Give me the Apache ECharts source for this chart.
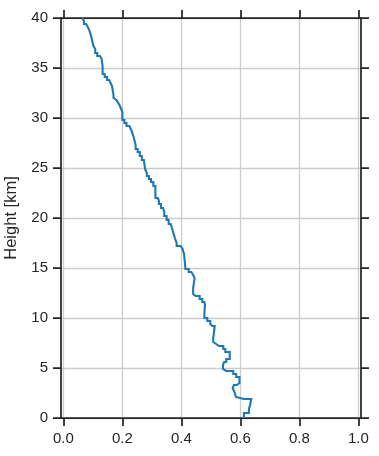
<!DOCTYPE html>
<html><head><meta charset="utf-8">
<script src="https://cdn.jsdelivr.net/npm/echarts@6/dist/echarts.min.js"></script>
<style>html,body{margin:0;padding:0;background:#fff;}#c{width:379px;height:456px;}</style>
</head><body><div id="c"></div>
<script>
// Layer boundaries (km) and profile value per layer
const heightEdges = [0,0.5,0.9,1.3,1.9,2.1,2.3,2.6,3.0,3.3,3.5,4.1,4.4,4.7,4.9,5.3,5.6,5.9,6.6,6.9,7.2,7.4,7.6,8.0,8.4,9.2,9.4,9.7,10.0,10.5,11.3,11.6,11.9,12.2,12.4,13.0,13.4,14.0,14.3,14.6,14.9,15.1,16.4,16.9,17.2,17.5,18.0,18.5,19.0,19.4,19.8,20.2,20.6,21.0,21.4,21.7,22.0,23.2,23.6,23.9,24.2,24.5,24.9,25.8,26.2,26.6,26.9,27.3,27.9,28.5,28.8,29.2,29.5,29.8,30.6,30.9,31.2,31.5,31.8,32.0,32.3,33.2,33.5,33.8,34.1,34.4,35.2,35.9,36.2,36.5,36.9,37.2,37.7,38.2,38.7,39.1,39.4,39.7,40.0];
const profileValues = [0.612,0.629,0.633,0.637,0.612,0.585,0.580,0.574,0.578,0.588,0.597,0.586,0.576,0.552,0.541,0.545,0.552,0.564,0.549,0.542,0.527,0.518,0.508,0.510,0.513,0.505,0.498,0.488,0.478,0.480,0.478,0.471,0.462,0.448,0.440,0.442,0.445,0.440,0.434,0.425,0.414,0.409,0.404,0.398,0.384,0.378,0.373,0.368,0.364,0.357,0.350,0.342,0.338,0.331,0.324,0.320,0.312,0.305,0.297,0.290,0.283,0.277,0.273,0.266,0.259,0.252,0.245,0.240,0.234,0.230,0.224,0.214,0.207,0.200,0.196,0.192,0.186,0.180,0.175,0.170,0.165,0.160,0.155,0.148,0.140,0.133,0.130,0.124,0.115,0.108,0.102,0.098,0.094,0.089,0.083,0.077,0.070,0.064];
const xTicks = [0, 0.2, 0.4, 0.6, 0.8, 1.0];
const yTicks = [0, 5, 10, 15, 20, 25, 30, 35, 40];
const yLabel = 'Height [km]';

const stairs = [];
for (let i = 0; i < profileValues.length; i++) {
  stairs.push([profileValues[i], heightEdges[i]]);
  stairs.push([profileValues[i], heightEdges[i + 1]]);
}

const FONT = '"Liberation Sans", Arial, sans-serif';
const DARK = '#262626';
const lineStyle = { color: DARK, width: 1.75 };
const tick = { show: true, inside: false, length: 8, lineStyle: { color: DARK, width: 1.75 } };

const chart = echarts.init(document.getElementById('c'), null, { renderer: 'canvas' });
chart.setOption({
  animation: false,
  backgroundColor: '#ffffff',
  grid: { left: 61, right: 18, top: 18, bottom: 38, containLabel: false, outerBoundsMode: 'none' },
  xAxis: [
    { type: 'value', position: 'bottom', min: -0.008, max: 1.009,
      axisLine: { show: true, onZero: false, lineStyle },
      axisTick: Object.assign({ customValues: xTicks }, tick),
      axisLabel: { customValues: xTicks, formatter: v => v.toFixed(1), color: DARK, fontFamily: FONT, fontSize: 15, margin: 13 },
      splitLine: { show: true, lineStyle: { color: '#cccccc', width: 1.3 } } },
    { type: 'value', position: 'top', min: -0.008, max: 1.009,
      axisLine: { show: true, onZero: false, lineStyle },
      axisTick: Object.assign({ customValues: xTicks }, tick),
      axisLabel: { show: false },
      splitLine: { show: false } }
  ],
  yAxis: [
    { type: 'value', position: 'left', min: yTicks[0], max: yTicks[yTicks.length - 1], interval: 5,
      name: yLabel, nameLocation: 'middle', nameGap: 40, nameRotate: 90,
      nameTextStyle: { color: DARK, fontFamily: FONT, fontSize: 16.5 },
      axisLine: { show: true, onZero: false, lineStyle },
      axisTick: tick,
      axisLabel: { color: DARK, fontFamily: FONT, fontSize: 15, margin: 13 },
      splitLine: { show: true, lineStyle: { color: '#cccccc', width: 1.3 } } },
    { type: 'value', position: 'right', min: yTicks[0], max: yTicks[yTicks.length - 1], interval: 5,
      axisLine: { show: true, onZero: false, lineStyle },
      axisTick: tick,
      axisLabel: { show: false },
      splitLine: { show: false } }
  ],
  series: [{
    type: 'line', xAxisIndex: 0, yAxisIndex: 0,
    data: stairs, showSymbol: false, symbol: 'none', smooth: false,
    lineStyle: { color: '#1f77b4', width: 2.1, join: 'miter', cap: 'butt' },
    z: 5
  }]
});
</script>
</body></html>
